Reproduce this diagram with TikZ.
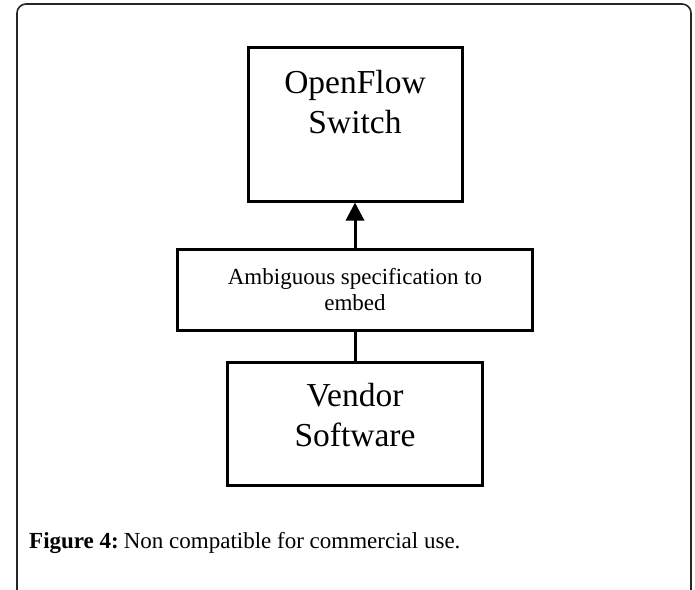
\documentclass[tikz,border=0pt]{standalone}
\usepackage{fontspec}
\setmainfont{Liberation Serif}
\usetikzlibrary{arrows.meta}
\begin{document}
\begin{tikzpicture}[x=1pt,y=-1pt,
  blockbox/.style={draw=black, line width=3pt, inner sep=0pt},
  bigtext/.style={font=\fontsize{33.5}{40}\selectfont, align=center},
  smalltext/.style={font=\fontsize{23}{26}\selectfont, align=center},
  link/.style={line width=3pt}]
\useasboundingbox (0,0) rectangle (695,589);
\fill[white] (0,0) rectangle (695,589);
% outer frame, open at the bottom edge
\begin{scope}
\clip (0,0) rectangle (695,589);
\draw[line width=1.6pt, color=black!85, rounded corners=9pt] (17,600) -- (17,4) -- (691,4) -- (691,600);
\end{scope}
% boxes
\node[blockbox, minimum width=214pt, minimum height=154pt] (sw) at (355,124) {};
\node[bigtext] (swt) at (355,102) {OpenFlow\\Switch};
\node[blockbox, minimum width=355pt, minimum height=81pt] (amb) at (355,289.5) {};
\node[smalltext] (ambt) at (355,290) {Ambiguous specification to\\embed};
\node[blockbox, minimum width=255pt, minimum height=123pt] (ven) at (355,423.5) {};
\node[bigtext] (vent) at (355,415) {Vendor\\Software};
% connectors
\draw[link, -{Triangle[length=18pt, width=18pt]}] (amb.north) -- (sw.south);
\draw[link] (ven.north) -- (amb.south);
% caption
\node[anchor=base west, inner sep=0pt, font=\fontsize{23}{28}\selectfont] (cap) at (29,548) {\textbf{Figure 4:}\hspace{5pt}Non compatible for commercial use.};
\end{tikzpicture}
\end{document}
